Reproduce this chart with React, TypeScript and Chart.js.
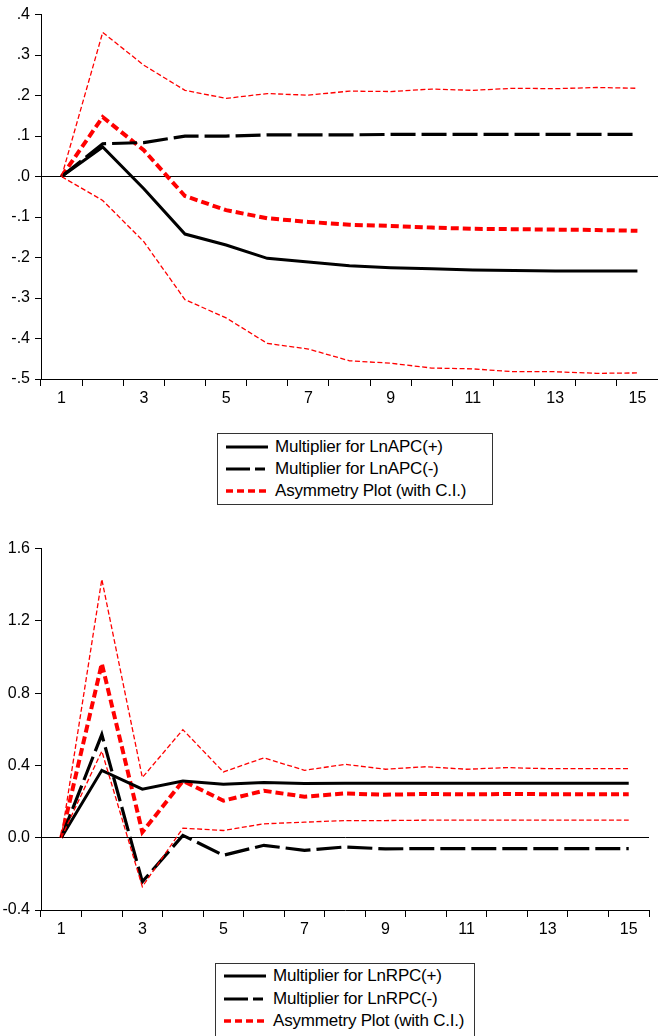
import React, { useEffect, useRef } from "react";
import { Chart, registerables } from "chart.js";

Chart.register(...registerables);

const PERIODS = ["1", "2", "3", "4", "5", "6", "7", "8", "9", "10", "11", "12", "13", "14", "15"];

// Top panel (LnAPC)
const APC_POS = [0, 0.073, -0.03, -0.142, -0.169, -0.202, -0.211, -0.22, -0.225, -0.228, -0.231, -0.232, -0.233, -0.233, -0.233];
const APC_NEG = [0, 0.081, 0.084, 0.1, 0.1, 0.103, 0.103, 0.103, 0.104, 0.104, 0.104, 0.104, 0.104, 0.104, 0.104];
const APC_ASYM = [0, 0.147, 0.065, -0.048, -0.083, -0.103, -0.112, -0.119, -0.122, -0.126, -0.129, -0.13, -0.131, -0.132, -0.134];
const APC_UP = [0, 0.356, 0.275, 0.213, 0.193, 0.205, 0.201, 0.211, 0.21, 0.216, 0.213, 0.218, 0.217, 0.22, 0.218];
const APC_LO = [0, -0.059, -0.161, -0.304, -0.349, -0.412, -0.426, -0.455, -0.461, -0.473, -0.475, -0.482, -0.482, -0.486, -0.485];

// Bottom panel (LnRPC)
const RPC_POS = [0, 0.373, 0.269, 0.314, 0.296, 0.305, 0.3, 0.302, 0.302, 0.302, 0.302, 0.302, 0.302, 0.302, 0.302];
const RPC_NEG = [0, 0.571, -0.244, 0.013, -0.097, -0.042, -0.07, -0.051, -0.062, -0.06, -0.06, -0.06, -0.06, -0.06, -0.06];
const RPC_ASYM = [0, 0.964, 0.031, 0.314, 0.205, 0.26, 0.227, 0.245, 0.238, 0.242, 0.24, 0.242, 0.241, 0.241, 0.241];
const RPC_UP = [0, 1.43, 0.333, 0.598, 0.364, 0.442, 0.373, 0.406, 0.379, 0.393, 0.379, 0.388, 0.382, 0.382, 0.382];
const RPC_LO = [0, 0.479, -0.271, 0.053, 0.04, 0.077, 0.086, 0.095, 0.095, 0.097, 0.097, 0.097, 0.097, 0.097, 0.097];

const TOP_LEGEND = ["Multiplier for LnAPC(+)", "Multiplier for LnAPC(-)", "Asymmetry Plot (with C.I.)"];
const BOTTOM_LEGEND = ["Multiplier for LnRPC(+)", "Multiplier for LnRPC(-)", "Asymmetry Plot (with C.I.)"];

const FONT = "'Liberation Sans', Arial, sans-serif";

function makeDatasets(pos: number[], neg: number[], asym: number[], up: number[], lo: number[]) {
  const base = { pointRadius: 0, tension: 0, fill: false, borderCapStyle: "butt" as const };
  return [
    { ...base, label: "upper", data: up, borderColor: "#ff0000", borderWidth: 1.3, borderDash: [5, 2.5] },
    { ...base, label: "lower", data: lo, borderColor: "#ff0000", borderWidth: 1.3, borderDash: [5, 2.5] },
    { ...base, label: "pos", data: pos, borderColor: "#000000", borderWidth: 3 },
    { ...base, label: "neg", data: neg, borderColor: "#000000", borderWidth: 3.2, borderDash: [25, 6] },
    { ...base, label: "asym", data: asym, borderColor: "#ff0000", borderWidth: 4, borderDash: [8, 4] },
  ];
}

type PanelProps = {
  datasets: any[];
  yMin: number;
  yMax: number;
  step: number;
  fmt: (v: number) => string;
  padTop: number;
  padRight: number;
  xHeight: number;
  width: number;
  height: number;
};

function Panel(props: PanelProps) {
  const ref = useRef<HTMLCanvasElement | null>(null);
  useEffect(() => {
    if (!ref.current) return;
    const chart = new Chart(ref.current, {
      type: "line",
      data: { labels: PERIODS, datasets: props.datasets },
      options: {
        animation: false,
        responsive: false,
        devicePixelRatio: 1,
        layout: { padding: { top: props.padTop, right: props.padRight, left: 0, bottom: 0 } },
        plugins: { legend: { display: false }, tooltip: { enabled: false } },
        scales: {
          x: {
            type: "category",
            offset: true,
            grid: {
              offset: true,
              display: true,
              drawOnChartArea: false,
              drawTicks: true,
              tickLength: 7,
              tickColor: "#000",
              color: "#000",
            },
            border: { display: true, color: "#000", width: 1 },
            ticks: {
              autoSkip: false,
              maxRotation: 0,
              minRotation: 0,
              padding: 3,
              color: "#000",
              font: { family: FONT, size: 16 },
              callback: (_v: any, i: number) => (i % 2 === 0 ? PERIODS[i] : ""),
            },
            afterFit: (s: any) => {
              s.height = props.xHeight;
            },
          },
          y: {
            min: props.yMin,
            max: props.yMax,
            grid: {
              drawOnChartArea: true,
              drawTicks: true,
              tickLength: 6,
              tickColor: "#000",
              lineWidth: 1,
              color: (c: any) => (c.tick && Math.abs(c.tick.value) < 1e-9 ? "#000" : "rgba(0,0,0,0)"),
            },
            border: { display: true, color: "#000", width: 1 },
            ticks: {
              stepSize: props.step,
              padding: 5,
              color: "#000",
              font: { family: FONT, size: 16 },
              callback: (v: any) => props.fmt(Number(v)),
            },
            afterFit: (s: any) => {
              s.width = 41;
            },
          },
        },
      },
    });
    return () => chart.destroy();
  }, []);
  return <canvas ref={ref} width={props.width} height={props.height} style={{ width: props.width, height: props.height, display: "block" }} />;
}

type LegendProps = { labels: string[]; left: number; top: number; width: number; height: number; rowGap: number; firstRow: number };

function Legend(p: LegendProps) {
  const styles = [
    { color: "#000", dash: "", w: 3 },
    { color: "#000", dash: "24 5 10 50", w: 3 },
    { color: "#ff0000", dash: "7 4", w: 3.5 },
  ];
  return (
    <div
      style={{
        position: "absolute",
        left: p.left,
        top: p.top,
        width: p.width,
        height: p.height,
        border: "1px solid #333",
        boxSizing: "border-box",
        background: "#fff",
        fontFamily: FONT,
        fontSize: 17,
        color: "#000",
      }}
    >
      {p.labels.map((lab, i) => (
        <div
          key={i}
          style={{ position: "absolute", left: 8, top: p.firstRow + i * p.rowGap - 11, height: 22, display: "flex", alignItems: "center", whiteSpace: "nowrap" }}
        >
          <svg width={42} height={8} style={{ marginRight: 7 }}>
            <line x1={0} y1={4} x2={42} y2={4} stroke={styles[i].color} strokeWidth={styles[i].w} strokeDasharray={styles[i].dash || undefined} />
          </svg>
          <span style={{ letterSpacing: -0.2 }}>{lab}</span>
        </div>
      ))}
    </div>
  );
}

const fmtTop = (v: number) => {
  const r = Math.round(v * 10) / 10;
  return r.toFixed(1).replace("0.", ".");
};
const fmtBottom = (v: number) => {
  const r = Math.round(v * 10) / 10;
  return r.toFixed(1);
};

export default function App() {
  return (
    <div style={{ position: "absolute", left: 0, top: 0, width: 658, height: 1036, overflow: "hidden", background: "#fff" }}>
      <div style={{ position: "absolute", left: 0, top: 0 }}>
        <Panel
          datasets={makeDatasets(APC_POS, APC_NEG, APC_ASYM, APC_UP, APC_LO)}
          yMin={-0.5}
          yMax={0.4}
          step={0.1}
          fmt={fmtTop}
          padTop={11}
          padRight={0}
          xHeight={31}
          width={658}
          height={410}
        />
      </div>
      <Legend labels={TOP_LEGEND} left={217} top={433} width={276} height={72} rowGap={22} firstRow={13} />
      <div style={{ position: "absolute", left: 0, top: 534 }}>
        <Panel
          datasets={makeDatasets(RPC_POS, RPC_NEG, RPC_ASYM, RPC_UP, RPC_LO)}
          yMin={-0.4}
          yMax={1.6}
          step={0.4}
          fmt={fmtBottom}
          padTop={12}
          padRight={9}
          xHeight={30}
          width={658}
          height={406}
        />
      </div>
      <Legend labels={BOTTOM_LEGEND} left={215} top={963} width={260} height={80} rowGap={22.5} firstRow={12} />
    </div>
  );
}
